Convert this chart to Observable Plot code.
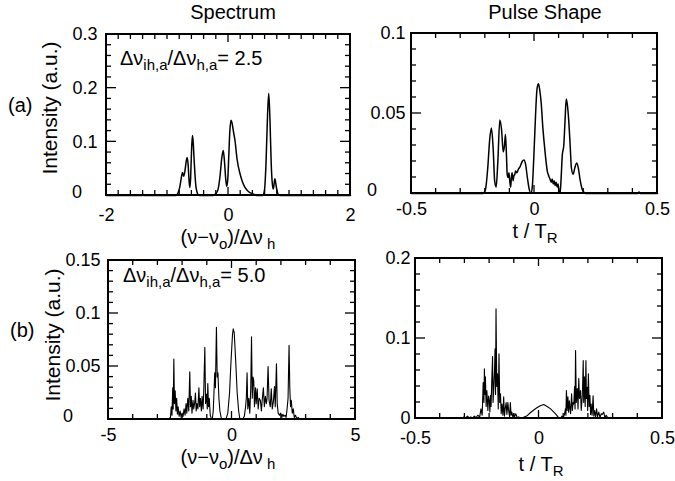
<!DOCTYPE html>
<html><head><meta charset="utf-8">
<script src="https://cdn.jsdelivr.net/npm/d3@7"></script>
<script src="https://cdn.jsdelivr.net/npm/@observablehq/plot@0.6"></script>
<style>
body{margin:0;background:#fff;}
#wrap{position:relative;width:675px;height:481px;overflow:hidden;background:#fff;}
#wrap > svg{position:absolute;}
</style></head><body><div id="wrap"></div>
<script>
// ---------- Panel (a) spectrum ----------
const specA_x = [-2, -1.42, -1.40, -1.38, -0.86, -0.83, -0.80, -0.775, -0.754, -0.735,
  -0.715, -0.695, -0.678, -0.662, -0.648, -0.634, -0.622, -0.61, -0.60, -0.59,
  -0.578, -0.565, -0.55, -0.535, -0.515, -0.497, -0.47, -0.26, -0.21, -0.17,
  -0.14, -0.11, -0.086, -0.065, -0.045, -0.03, -0.012, 0.005, 0.022, 0.041,
  0.058, 0.08, 0.107, 0.14, 0.19, 0.23, 0.27, 0.33, 0.40, 0.46,
  0.56, 0.59, 0.615, 0.64, 0.66, 0.68, 0.70, 0.72, 0.735, 0.76,
  0.785, 0.81, 0.84, 2];
const specA_y = [0, 0, 0.002, 0, 0, 0.004, 0.015, 0.032, 0.043, 0.036,
  0.045, 0.062, 0.071, 0.058, 0.03, 0.015, 0.03, 0.07, 0.098, 0.112,
  0.098, 0.07, 0.04, 0.018, 0.006, 0.001, 0, 0, 0.003, 0.012,
  0.035, 0.07, 0.084, 0.062, 0.03, 0.017, 0.03, 0.075, 0.12, 0.14,
  0.135, 0.12, 0.102, 0.068, 0.04, 0.025, 0.015, 0.007, 0.003, 0,
  0, 0.01, 0.06, 0.15, 0.19, 0.14, 0.06, 0.02, 0.012, 0.031,
  0.015, 0.003, 0, 0];

// ---------- Panel (a) pulse ----------
const pulseA_t = [-0.5, -0.21, -0.2, -0.19, -0.182, -0.175, -0.168, -0.162, -0.156, -0.149,
  -0.141, -0.134, -0.127, -0.122, -0.118, -0.114, -0.111, -0.107, -0.104, -0.1,
  -0.097, -0.094, -0.091, -0.087, -0.084, -0.08, -0.077, -0.072, -0.066, -0.058,
  -0.05, -0.043, -0.036, -0.029, -0.022, -0.015, -0.009, -0.003, 0.004, 0.01,
  0.016, 0.021, 0.027, 0.034, 0.041, 0.047, 0.052, 0.058, 0.063, 0.068,
  0.072, 0.076, 0.08, 0.084, 0.088, 0.092, 0.096, 0.1, 0.104, 0.108,
  0.113, 0.119, 0.124, 0.129, 0.134, 0.139, 0.145, 0.15, 0.157, 0.164,
  0.171, 0.178, 0.185, 0.193, 0.2, 0.207, 0.42, 0.425, 0.43, 0.5];
const pulseA_y = [0, 0, 0.002, 0.016, 0.034, 0.041, 0.028, 0.008, 0.004, 0.02,
  0.046, 0.04, 0.026, 0.03, 0.037, 0.024, 0.012, 0.01, 0.013, 0.007,
  0.004, 0.01, 0.013, 0.008, 0.011, 0.012, 0.014, 0.013, 0.015, 0.017,
  0.02, 0.021, 0.018, 0.01, 0.003, 0, 0.004, 0.022, 0.048, 0.065,
  0.0686, 0.065, 0.057, 0.041, 0.029, 0.02, 0.014, 0.011, 0.009, 0.007,
  0.009, 0.006, 0.008, 0.005, 0.007, 0.004, 0.006, 0.001, 0, 0.009,
  0.024, 0.03, 0.045, 0.059, 0.055, 0.046, 0.03, 0.016, 0.012, 0.016,
  0.019, 0.016, 0.009, 0.003, 0.001, 0, 0, 0.001, 0, 0];

// ---------- Panel (b) spectrum ----------
const specB_x = [-2.7, -2.55, -2.49, -2.46, -2.43, -2.40, -2.38, -2.355, -2.33, -2.30,
  -2.27, -2.24, -2.21, -2.18, -2.14, -2.10, -2.06, -2.02, -1.98, -1.94,
  -1.90, -1.86, -1.83, -1.79, -1.75, -1.71, -1.68, -1.65, -1.62, -1.58,
  -1.55, -1.51, -1.48, -1.45, -1.42, -1.38, -1.34, -1.31, -1.28, -1.24,
  -1.21, -1.17, -1.14, -1.10, -1.07, -1.03, -1.00, -0.98, -0.95, -0.92,
  -0.88, -0.84, -0.80, -0.76, -0.73, -0.70, -0.67, -0.65, -0.63, -0.60,
  -0.57, -0.53, -0.49, -0.44, -0.40, -0.25, -0.17, -0.10, -0.04, 0.02,
  0.05, 0.09, 0.15, 0.21, 0.27, 0.32, 0.42, 0.50, 0.55, 0.58,
  0.61, 0.64, 0.68, 0.72, 0.76, 0.79, 0.82, 0.85, 0.88, 0.91,
  0.95, 0.98, 1.02, 1.06, 1.10, 1.15, 1.19, 1.23, 1.27, 1.31,
  1.35, 1.39, 1.42, 1.46, 1.50, 1.55, 1.59, 1.63, 1.68, 1.72,
  1.75, 1.80, 1.83, 1.87, 1.92, 1.97, 2.02, 2.06, 2.10, 2.15,
  2.19, 2.23, 2.27, 2.31, 2.34, 2.37, 2.40, 2.44, 2.48, 2.52,
  2.57, 2.62, 2.68, 2.75];
const specB_y = [0, 0.001, 0.002, 0.012, 0.004, 0.03, 0.01, 0.057, 0.015, 0.027,
  0.008, 0.02, 0.005, 0.012, 0.003, 0.008, 0.002, 0.006, 0.003, 0.01,
  0.004, 0.015, 0.006, 0.02, 0.008, 0.045, 0.012, 0.022, 0.006, 0.018,
  0.01, 0.016, 0.025, 0.008, 0.015, 0.01, 0.03, 0.012, 0.02, 0.008,
  0.022, 0.01, 0.03, 0.068, 0.015, 0.024, 0.01, 0.034, 0.012, 0.02,
  0.004, 0.001, 0, 0.008, 0.025, 0.044, 0.03, 0.06, 0.087, 0.04,
  0.044, 0.02, 0.008, 0.002, 0, 0, 0.006, 0.025, 0.055, 0.08,
  0.0855, 0.082, 0.055, 0.025, 0.008, 0, 0, 0.003, 0.012, 0.02,
  0.044, 0.01, 0.02, 0.006, 0.03, 0.078, 0.02, 0.04, 0.037, 0.012,
  0.03, 0.015, 0.029, 0.01, 0.02, 0.018, 0.008, 0.02, 0.03, 0.012,
  0.022, 0.015, 0.02, 0.05, 0.018, 0.012, 0.029, 0.01, 0.018, 0.031,
  0.012, 0.0525, 0.015, 0.006, 0.004, 0.006, 0.002, 0.005, 0.003, 0.004,
  0.002, 0.01, 0.02, 0.07, 0.03, 0.012, 0.018, 0.006, 0.01, 0.002,
  0.004, 0.001, 0.002, 0];

// ---------- Panel (b) pulse ----------
const pulseB_t = [-0.5, -0.31, -0.304, -0.298, -0.29, -0.283, -0.276, -0.27, -0.262, -0.255,
  -0.248, -0.24, -0.235, -0.23, -0.226, -0.223, -0.221, -0.219, -0.217, -0.214,
  -0.211, -0.207, -0.204, -0.201, -0.199, -0.196, -0.194, -0.191, -0.188, -0.186,
  -0.183, -0.18, -0.178, -0.176, -0.174, -0.171, -0.168, -0.165, -0.162, -0.159,
  -0.156, -0.153, -0.15, -0.146, -0.143, -0.14, -0.137, -0.133, -0.13, -0.126,
  -0.123, -0.119, -0.116, -0.113, -0.11, -0.106, -0.102, -0.099, -0.094, -0.088,
  -0.082, -0.075, -0.05, -0.034, -0.02, -0.007, 0.005, 0.019, 0.033, 0.047,
  0.057, 0.067, 0.077, 0.087, 0.093, 0.098, 0.103, 0.107, 0.109, 0.111,
  0.114, 0.117, 0.12, 0.123, 0.125, 0.128, 0.132, 0.135, 0.138, 0.141,
  0.144, 0.146, 0.148, 0.151, 0.155, 0.158, 0.161, 0.164, 0.168, 0.171,
  0.175, 0.177, 0.179, 0.181, 0.184, 0.187, 0.19, 0.192, 0.195, 0.197,
  0.2, 0.203, 0.206, 0.209, 0.211, 0.215, 0.219, 0.222, 0.225, 0.229,
  0.233, 0.237, 0.242, 0.247, 0.252, 0.256, 0.262, 0.267, 0.272, 0.276,
  0.282, 0.289, 0.5];
const pulseB_y = [0, 0, 0.002, 0, 0.003, 0.001, 0.002, 0, 0.003, 0.001,
  0.004, 0.002, 0.012, 0.004, 0.045, 0.02, 0.062, 0.03, 0.052, 0.015,
  0.035, 0.01, 0.028, 0.022, 0.008, 0.029, 0.015, 0.05, 0.0775, 0.02,
  0.039, 0.06, 0.087, 0.03, 0.137, 0.04, 0.056, 0.012, 0.081, 0.02,
  0.031, 0.006, 0.018, 0.004, 0.027, 0.003, 0.012, 0.02, 0.005, 0.02,
  0.01, 0.002, 0.02, 0.004, 0.008, 0.002, 0.006, 0.002, 0.006, 0.001,
  0.002, 0, 0.003, 0.0075, 0.011, 0.0137, 0.016, 0.0175, 0.015, 0.012,
  0.009, 0.0058, 0.002, 0, 0.003, 0.001, 0.005, 0.012, 0.004, 0.035,
  0.01, 0.027, 0.008, 0.022, 0.015, 0.006, 0.031, 0.01, 0.02, 0.018,
  0.04, 0.012, 0.085, 0.02, 0.0375, 0.012, 0.05, 0.025, 0.035, 0.01,
  0.027, 0.045, 0.0725, 0.02, 0.052, 0.015, 0.0725, 0.025, 0.039, 0.01,
  0.056, 0.015, 0.029, 0.005, 0.018, 0.004, 0.0285, 0.003, 0.01, 0.002,
  0.012, 0.002, 0.008, 0.001, 0.006, 0.005, 0.008, 0.001, 0.004, 0.002,
  0.001, 0, 0];

// ---------- Axis domains and tick labels ----------
const specA_xDomain = [-2, 2], specA_yDomain = [0, 0.3];
const specA_xLabels = [-2, 0, 2], specA_yLabels = [0.1, 0.2, 0.3];
const pulseA_xDomain = [-0.5, 0.5], pulseA_yDomain = [0, 0.1];
const pulseA_xLabels = [-0.5, 0, 0.5], pulseA_yLabels = [0.05, 0.1];
const specB_xDomain = [-5, 5], specB_yDomain = [0, 0.15];
const specB_xLabels = [-5, 0, 5], specB_yLabels = [0.05, 0.1, 0.15];
const pulseB_xDomain = [-0.5, 0.5], pulseB_yDomain = [0, 0.2];
const pulseB_xLabels = [-0.5, 0, 0.5], pulseB_yLabels = [0, 0.1, 0.2];

// ---------- Titles and labels (parts: [text, isSubscript]) ----------
const nuLabel = [["(ν−ν", 0], ["o", 1], [")/Δν", 0], [" h", 1]];
const tLabel = [["t / T", 0], ["R", 1]];
const textsA_spec = [
  {x: 233, y: 19, size: 20, anchor: "middle", parts: [["Spectrum", 0]]},
  {x: 8, y: 112, size: 20, parts: [["(a)", 0]]},
  {x: 57, y: 108, size: 21, anchor: "middle", rotate: -90, parts: [["Intensity (a.u.)", 0]]},
  {x: 120, y: 65, size: 20, parts: [["Δν", 0], ["ih,a", 1], ["/Δν", 0], ["h,a", 1], ["= 2.5", 0]]},
  {x: 228, y: 244, size: 20, anchor: "middle", parts: nuLabel}
];
const textsA_pulse = [
  {x: 185, y: 19, size: 20, anchor: "middle", parts: [["Pulse Shape", 0]]},
  {x: 175, y: 238, size: 20, anchor: "middle", parts: tLabel}
];
const textsB_spec = [
  {x: 10, y: 87, size: 20, parts: [["(b)", 0]]},
  {x: 60, y: 85, size: 21, anchor: "middle", rotate: -90, parts: [["Intensity (a.u.)", 0]]},
  {x: 123, y: 32, size: 20, parts: [["Δν", 0], ["ih,a", 1], ["/Δν", 0], ["h,a", 1], ["= 5.0", 0]]},
  {x: 228, y: 214, size: 20, anchor: "middle", parts: nuLabel}
];
const textsB_pulse = [
  {x: 176, y: 221, size: 20, anchor: "middle", parts: tLabel}
];

const stepTicks = (lo, hi, step) => d3.range(Math.round((hi - lo) / step) + 1).map(i => +(lo + i * step).toFixed(6));
const has = (arr, v) => arr.some(a => Math.abs(a - v) < 1e-9);
const wrap = document.getElementById("wrap");

function addTexts(svg, texts) {
  const g = d3.select(svg).append("g").attr("fill", "#000")
    .attr("font-family", "'Liberation Sans', Arial, sans-serif").style("white-space", "pre");
  for (const t of texts) {
    const el = g.append("text").attr("x", t.x).attr("y", t.y)
      .attr("font-size", t.size).attr("text-anchor", t.anchor || "start");
    if (t.rotate) el.attr("transform", `rotate(${t.rotate} ${t.x} ${t.y})`);
    let cur = 0;
    for (const [s, isSub] of t.parts) {
      const sp = el.append("tspan").text(s);
      const want = isSub ? 5 : 0;
      if (want !== cur) { sp.attr("dy", want - cur); cur = want; }
      if (isSub) sp.attr("font-size", 15);
    }
  }
}

// frame and inward ticks on all four sides, positioned with the plot's own scales
function addFrame(svg, o) {
  const sx = svg.scale("x"), sy = svg.scale("y");
  const X = v => sx.apply(v), Y = v => sy.apply(v);
  const xMinor = stepTicks(o.xDomain[0], o.xDomain[1], o.xStep);
  const yMinor = stepTicks(o.yDomain[0], o.yDomain[1], o.yStep);
  const x0 = X(o.xDomain[0]), x1 = X(o.xDomain[1]), y0 = Y(o.yDomain[0]), y1 = Y(o.yDomain[1]);
  const g = d3.select(svg).append("g").attr("stroke", "#000").attr("fill", "none").attr("stroke-width", 1.3);
  for (const v of xMinor) {
    const len = has(o.xLabels, v) ? 8 : 5, px = X(v);
    g.append("line").attr("x1", px).attr("x2", px).attr("y1", y0).attr("y2", y0 - len);
    g.append("line").attr("x1", px).attr("x2", px).attr("y1", y1).attr("y2", y1 + len);
  }
  for (const v of yMinor) {
    const len = has(o.yMajor, v) ? 10 : 5, py = Y(v);
    g.append("line").attr("x1", x0).attr("x2", x0 + len).attr("y1", py).attr("y2", py);
    g.append("line").attr("x1", x1).attr("x2", x1 - len).attr("y1", py).attr("y2", py);
  }
  g.append("rect").attr("x", x0).attr("y", y1).attr("width", x1 - x0).attr("height", y0 - y1).attr("stroke-width", 2);
  if (o.zeroPad != null) {
    d3.select(svg).append("text").attr("x", x0 - o.zeroPad).attr("y", Y(0) - 3).attr("dy", "0.32em")
      .attr("text-anchor", "start").attr("fill", "#000").attr("font-size", 18)
      .attr("font-family", "'Liberation Sans', Arial, sans-serif").text("0");
  }
}

function panel(o) {
  const data = o.xs.map((x, i) => ({x, y: o.ys[i]}));
  const svg = Plot.plot({
    width: o.width, height: o.height,
    marginLeft: o.mL, marginRight: o.mR, marginTop: o.mT, marginBottom: o.mB,
    x: {domain: o.xDomain, ticks: o.xLabels, tickSize: 0, tickPadding: o.xPad, tickFormat: d => String(d), label: null},
    y: {domain: o.yDomain, ticks: o.yLabels, tickSize: 0, tickPadding: o.yPad, tickFormat: d => String(d), label: null},
    style: {fontFamily: "'Liberation Sans', Arial, sans-serif", fontSize: "18px", background: "transparent", color: "#000", overflow: "visible"},
    marks: [Plot.line(data, {x: "x", y: "y", stroke: "#000", strokeWidth: o.sw, curve: o.curve})]
  });
  svg.style.position = "absolute";
  svg.style.left = o.left + "px";
  svg.style.top = o.top + "px";
  try { addFrame(svg, o); } catch (e) { console.error(e); }
  addTexts(svg, o.texts);
  wrap.appendChild(svg);
}

panel({xs: specA_x, ys: specA_y, xDomain: specA_xDomain, yDomain: specA_yDomain,
  xLabels: specA_xLabels, yLabels: specA_yLabels, yMajor: [0.1, 0.2], xStep: 0.2, yStep: 0.02,
  left: 0, top: 0, width: 360, height: 250, mL: 106, mR: 10, mT: 34, mB: 55,
  xPad: 13, yPad: 9, zeroPad: 34, curve: "monotone-x", sw: 1.5, texts: textsA_spec});
panel({xs: pulseA_t, ys: pulseA_y, xDomain: pulseA_xDomain, yDomain: pulseA_yDomain,
  xLabels: pulseA_xLabels, yLabels: pulseA_yLabels, yMajor: [0.05], xStep: 0.1, yStep: 0.01,
  left: 360, top: 0, width: 315, height: 250, mL: 51, mR: 18, mT: 33, mB: 57,
  xPad: 9, yPad: 6, zeroPad: 44, curve: "monotone-x", sw: 1.5, texts: textsA_pulse});
panel({xs: specB_x, ys: specB_y, xDomain: specB_xDomain, yDomain: specB_yDomain,
  xLabels: specB_xLabels, yLabels: specB_yLabels, yMajor: [0.05, 0.1], xStep: 1, yStep: 0.01,
  left: 0, top: 250, width: 365, height: 231, mL: 108, mR: 10, mT: 10, mB: 62,
  xPad: 9, yPad: 8, zeroPad: 45, curve: "linear", sw: 1.1, texts: textsB_spec});
panel({xs: pulseB_t, ys: pulseB_y, xDomain: pulseB_xDomain, yDomain: pulseB_yDomain,
  xLabels: pulseB_xLabels, yLabels: pulseB_yLabels, yMajor: [0.1], xStep: 0.1, yStep: 0.02,
  left: 365, top: 250, width: 310, height: 231, mL: 50, mR: 13, mT: 8, mB: 63,
  xPad: 13, yPad: 5, zeroPad: null, curve: "linear", sw: 1.1, texts: textsB_pulse});
</script>
</body></html>
